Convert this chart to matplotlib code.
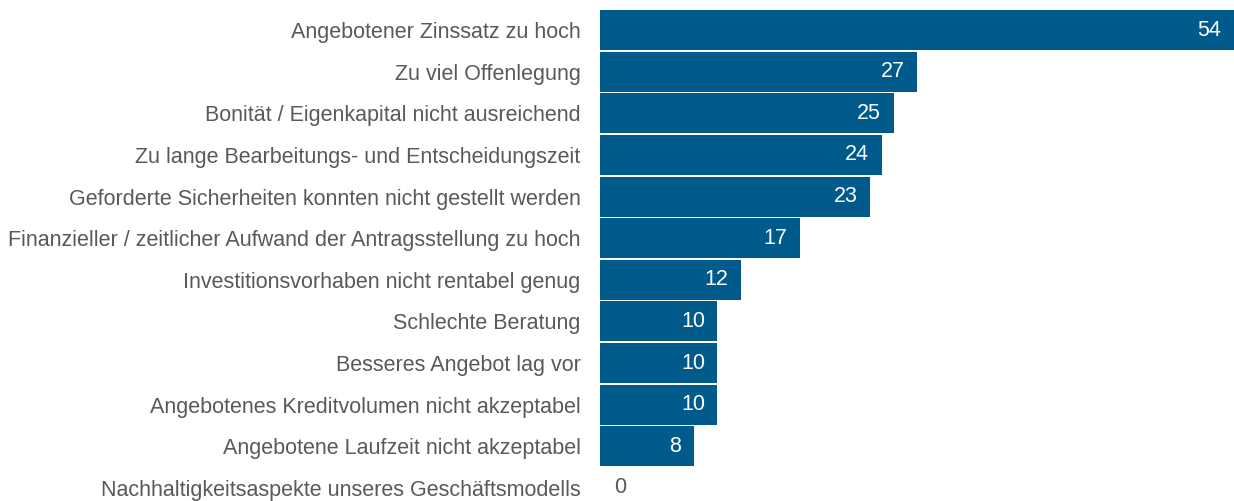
import matplotlib.pyplot as plt
import numpy as np

plt.rcParams["font.family"] = ["Liberation Sans", "DejaVu Sans"]

# Gründe gegen die Kreditaufnahme
categories = [
    "Angebotener Zinssatz zu hoch",
    "Zu viel Offenlegung",
    "Bonität / Eigenkapital nicht ausreichend",
    "Zu lange Bearbeitungs- und Entscheidungszeit",
    "Geforderte Sicherheiten konnten nicht gestellt werden",
    "Finanzieller / zeitlicher Aufwand der Antragsstellung zu hoch",
    "Investitionsvorhaben nicht rentabel genug",
    "Schlechte Beratung",
    "Besseres Angebot lag vor",
    "Angebotenes Kreditvolumen nicht akzeptabel",
    "Angebotene Laufzeit nicht akzeptabel",
    "Nachhaltigkeitsaspekte unseres Geschäftsmodells",
]
values = [54, 27, 25, 24, 23, 17, 12, 10, 10, 10, 8, 0]

BAR_COLOR = "#005a8c"
TEXT_COLOR = "#595959"
FS = 15.5

fig = plt.figure(figsize=(12.34, 5.01), dpi=100)
ax = fig.add_axes([600 / 1234, -0.0156, 634 / 1234, 0.9972])

y = np.arange(len(categories))
ax.barh(y, values, height=0.96, color=BAR_COLOR)

ax.set_xlim(0, 54)
ax.set_ylim(len(categories) - 0.5, -0.5)
ax.set_yticks(y)
ax.set_yticklabels(categories, fontsize=FS, color=TEXT_COLOR)
ax.tick_params(axis="y", length=0, pad=14)
ax.set_xticks([])
for s in ax.spines.values():
    s.set_visible(False)

for yi, v in zip(y, values):
    if v > 0:
        ax.annotate(str(v), (v, yi), xytext=(-9, 0), textcoords="offset points",
                    ha="right", va="center", color="white", fontsize=FS)
    else:
        ax.annotate(str(v), (v, yi), xytext=(10, 0), textcoords="offset points",
                    ha="left", va="center", color=TEXT_COLOR, fontsize=FS)

fig.savefig("out.png", dpi=100)
